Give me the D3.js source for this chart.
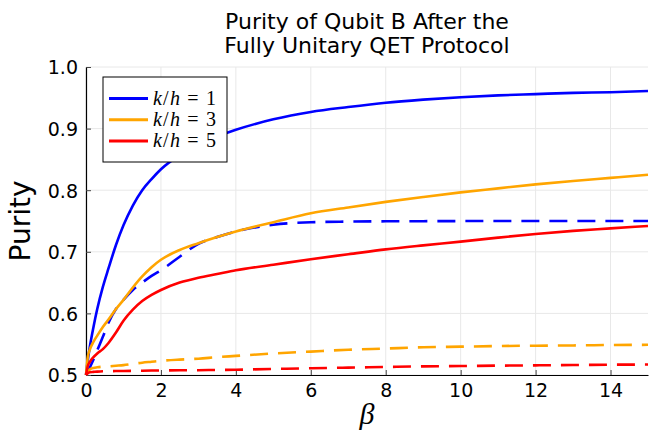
<!DOCTYPE html>
<html>
<head>
<meta charset="utf-8">
<script src="https://cdn.jsdelivr.net/npm/d3@7"></script>
<style>
  body { margin: 0; background: #fff; }
  svg { display: block; font-family: "DejaVu Sans", sans-serif; }
</style>
</head>
<body>
<svg id="chart"></svg>
<script>
// beta sample points
const betaValues = [0, 0.05, 0.1, 0.2, 0.3, 0.45, 0.6, 0.8, 1.0, 1.25, 1.5, 1.75, 2, 2.5, 3, 3.5, 4, 5, 6, 7, 8, 9, 10, 11, 12, 13, 14, 15];

// solid curves
const solidK1 = [0.5, 0.525, 0.545, 0.578, 0.607, 0.643, 0.673, 0.711, 0.743, 0.775, 0.800, 0.818, 0.834, 0.857, 0.874, 0.887, 0.898, 0.915, 0.927, 0.935, 0.942, 0.947, 0.951, 0.954, 0.956, 0.958, 0.959, 0.961];
const solidK3 = [0.5, 0.530, 0.541, 0.554, 0.564, 0.578, 0.590, 0.607, 0.622, 0.642, 0.660, 0.675, 0.687, 0.703, 0.714, 0.724, 0.733, 0.748, 0.7625, 0.772, 0.781, 0.789, 0.7965, 0.803, 0.8095, 0.815, 0.820, 0.825];
const solidK5 = [0.5, 0.515, 0.521, 0.529, 0.535, 0.542, 0.552, 0.569, 0.588, 0.606, 0.620, 0.630, 0.638, 0.650, 0.658, 0.664, 0.670, 0.679, 0.688, 0.696, 0.704, 0.7105, 0.7165, 0.723, 0.729, 0.734, 0.738, 0.742];

// dashed curves
const dashedK1 = [0.5, 0.506, 0.512, 0.525, 0.540, 0.562, 0.585, 0.607, 0.622, 0.638, 0.650, 0.661, 0.670, 0.692, 0.713, 0.724, 0.733, 0.744, 0.748, 0.749, 0.7495, 0.7497, 0.7499, 0.75, 0.75, 0.75, 0.75, 0.75];
const dashedK3 = [0.5, 0.506, 0.509, 0.5115, 0.5125, 0.5135, 0.514, 0.515, 0.516, 0.518, 0.520, 0.5215, 0.523, 0.525, 0.5265, 0.529, 0.531, 0.535, 0.538, 0.541, 0.543, 0.545, 0.546, 0.547, 0.5476, 0.548, 0.5487, 0.549];
const dashedK5 = [0.5, 0.503, 0.5045, 0.505, 0.5055, 0.506, 0.5062, 0.5064, 0.5066, 0.5068, 0.507, 0.5072, 0.5073, 0.5076, 0.5078, 0.5082, 0.5086, 0.5098, 0.511, 0.512, 0.513, 0.514, 0.5146, 0.5152, 0.5157, 0.5162, 0.5167, 0.517];

const legendLabels = ["1", "3", "5"];
const seriesColors = ["#0000ff", "#ffa500", "#ff0000"];
const xTicks = [0, 2, 4, 6, 8, 10, 12, 14];
const yTicks = [0.5, 0.6, 0.7, 0.8, 0.9, 1.0];

const width = 650, height = 433;
const plotLeft = 86, plotRight = 648, plotTop = 67, plotBottom = 375;

const svg = d3.select("#chart").attr("width", width).attr("height", height);

const x = d3.scaleLinear().domain([0, 15]).range([plotLeft, plotRight]);
const y = d3.scaleLinear().domain([0.5, 1.0]).range([plotBottom, plotTop]);

// grid
svg.append("g")
    .selectAll("line")
    .data(xTicks)
    .join("line")
    .attr("x1", d => x(d)).attr("x2", d => x(d))
    .attr("y1", plotTop).attr("y2", plotBottom)
    .attr("stroke", "#e8e8e8").attr("stroke-width", 1);

svg.append("g")
    .selectAll("line")
    .data(yTicks)
    .join("line")
    .attr("x1", plotLeft).attr("x2", plotRight)
    .attr("y1", d => y(d)).attr("y2", d => y(d))
    .attr("stroke", "#e8e8e8").attr("stroke-width", 1);

// axes, ticks pointing inward
const xAxis = svg.append("g")
    .attr("transform", `translate(0,${plotBottom})`)
    .call(d3.axisBottom(x).tickValues(xTicks).tickFormat(d3.format("d")).tickSize(-5).tickPadding(8).tickSizeOuter(0));
const yAxis = svg.append("g")
    .attr("transform", `translate(${plotLeft},0)`)
    .call(d3.axisLeft(y).tickValues(yTicks).tickFormat(d3.format(".1f")).tickSize(-5).tickPadding(8).tickSizeOuter(0));

[xAxis, yAxis].forEach(g => {
    g.select(".domain").attr("stroke", "#000").attr("stroke-width", 1.2);
    g.selectAll(".tick line").attr("stroke", "#444").attr("stroke-width", 1);
    g.selectAll(".tick text")
        .attr("fill", "#000")
        .style("font-family", "'DejaVu Sans', sans-serif")
        .style("font-size", "19px");
});
xAxis.selectAll(".tick text").attr("y", 6).attr("dy", "0.85em");
yAxis.selectAll(".tick text").attr("dy", "0.36em").attr("x", -8);

// curves
const line = d3.line()
    .x((d, i) => x(betaValues[i]))
    .y(d => y(d))
    .curve(d3.curveMonotoneX);

const curveGroup = svg.append("g");
const pairs = [[solidK1, dashedK1], [solidK3, dashedK3], [solidK5, dashedK5]];
pairs.forEach(([solid, dashed], k) => {
    curveGroup.append("path")
        .attr("d", line(solid))
        .attr("fill", "none")
        .attr("stroke", seriesColors[k])
        .attr("stroke-width", 2.6);
    curveGroup.append("path")
        .attr("d", line(dashed))
        .attr("fill", "none")
        .attr("stroke", seriesColors[k])
        .attr("stroke-width", 2.6)
        .attr("stroke-dasharray", "18,10");
});

// title
const title = svg.append("text")
    .attr("text-anchor", "middle")
    .style("font-size", "22px")
    .attr("fill", "#000");
title.append("tspan").attr("x", (plotLeft + plotRight) / 2).attr("y", 29).text("Purity of Qubit B After the");
title.append("tspan").attr("x", (plotLeft + plotRight) / 2).attr("y", 53).text("Fully Unitary QET Protocol");

// axis labels
svg.append("text")
    .attr("transform", `translate(30,${(plotTop + plotBottom) / 2}) rotate(-90)`)
    .attr("text-anchor", "middle")
    .style("font-size", "28px")
    .attr("fill", "#000")
    .text("Purity");

svg.append("text")
    .attr("x", (plotLeft + plotRight) / 2)
    .attr("y", 424)
    .attr("text-anchor", "middle")
    .style("font-family", "'Liberation Serif', serif")
    .style("font-style", "italic")
    .style("font-size", "30px")
    .attr("fill", "#000")
    .text("β");

// legend
const legend = svg.append("g").attr("transform", "translate(103,77)");
legend.append("rect")
    .attr("width", 124).attr("height", 85)
    .attr("fill", "#fff").attr("stroke", "#000").attr("stroke-width", 1);

legendLabels.forEach((lab, i) => {
    const ly = 21.5 + i * 21.2;
    legend.append("line")
        .attr("x1", 6).attr("x2", 45)
        .attr("y1", ly).attr("y2", ly)
        .attr("stroke", seriesColors[i]).attr("stroke-width", 3);
    const t = legend.append("text")
        .attr("x", 50).attr("y", ly + 6.5)
        .style("font-family", "'Liberation Serif', serif")
        .style("font-size", "20px")
        .attr("fill", "#000")
        .attr("textLength", 63)
        .attr("lengthAdjust", "spacing");
    t.append("tspan").style("font-style", "italic").text("k");
    t.append("tspan").text("/");
    t.append("tspan").style("font-style", "italic").text("h");
    t.append("tspan").text(" = " + lab);
});
</script>
</body>
</html>
